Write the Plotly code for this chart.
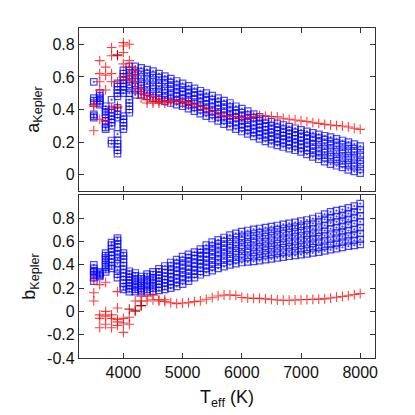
import plotly.graph_objects as go
from plotly.subplots import make_subplots

# model grid: one column of points per Teff (K)
TEFF_GRID = [3500, 3600, 3700, 3800, 3900, 4000, 4100, 4200, 4300, 4400,
             4500, 4600, 4700, 4800, 4900, 5000, 5100, 5200, 5300, 5400,
             5500, 5600, 5700, 5800, 5900, 6000, 6100, 6200, 6300, 6400,
             6500, 6600, 6700, 6800, 6900, 7000, 7100, 7200, 7300, 7400,
             7500, 7600, 7700, 7800, 7900, 8000]

A_GRID = [
    [0.57, 0.47, 0.455, 0.44, 0.37, 0.36, 0.35],
    [0.50, 0.485, 0.47, 0.455, 0.44, 0.43],
    [0.42, 0.40, 0.385, 0.37, 0.35, 0.33, 0.31, 0.29, 0.28],
    [0.46, 0.40, 0.38, 0.36, 0.34, 0.32, 0.30, 0.21, 0.19],
    [0.56, 0.54, 0.52, 0.50, 0.48, 0.41, 0.37, 0.35, 0.25, 0.21, 0.19, 0.17, 0.15, 0.13],
    [0.64, 0.62, 0.60, 0.58, 0.56, 0.54, 0.52, 0.50, 0.36, 0.34, 0.32, 0.30, 0.28],
    [0.665, 0.64, 0.61, 0.585, 0.555, 0.53, 0.50, 0.46, 0.44, 0.42, 0.40, 0.38],
    [0.665, 0.635, 0.61, 0.58, 0.55, 0.52, 0.49],
    [0.655, 0.63, 0.60, 0.57, 0.545, 0.515, 0.49],
    [0.645, 0.62, 0.59, 0.56, 0.535, 0.505, 0.48],
    [0.635, 0.61, 0.58, 0.55, 0.525, 0.495, 0.47],
    [0.62, 0.595, 0.565, 0.54, 0.51, 0.485, 0.46],
    [0.605, 0.58, 0.555, 0.525, 0.50, 0.475, 0.45],
    [0.59, 0.565, 0.54, 0.515, 0.49, 0.465, 0.44],
    [0.575, 0.55, 0.525, 0.50, 0.48, 0.455, 0.43],
    [0.56, 0.535, 0.51, 0.49, 0.465, 0.44, 0.42],
    [0.545, 0.52, 0.50, 0.475, 0.45, 0.43, 0.405],
    [0.53, 0.505, 0.485, 0.46, 0.435, 0.415, 0.39],
    [0.515, 0.49, 0.47, 0.445, 0.42, 0.40, 0.375],
    [0.50, 0.475, 0.455, 0.43, 0.405, 0.385, 0.36],
    [0.485, 0.46, 0.44, 0.415, 0.39, 0.37, 0.345],
    [0.47, 0.445, 0.425, 0.40, 0.375, 0.355, 0.33],
    [0.455, 0.43, 0.405, 0.38, 0.36, 0.335, 0.31],
    [0.44, 0.415, 0.39, 0.365, 0.345, 0.32, 0.295],
    [0.42, 0.395, 0.375, 0.35, 0.325, 0.305, 0.28],
    [0.405, 0.38, 0.36, 0.335, 0.31, 0.29, 0.265],
    [0.39, 0.365, 0.345, 0.32, 0.295, 0.275, 0.25],
    [0.372, 0.35, 0.325, 0.305, 0.28, 0.26, 0.235],
    [0.355, 0.33, 0.31, 0.29, 0.265, 0.245, 0.22],
    [0.34, 0.315, 0.295, 0.275, 0.25, 0.23, 0.205],
    [0.325, 0.30, 0.28, 0.26, 0.235, 0.215, 0.19],
    [0.315, 0.29, 0.27, 0.25, 0.225, 0.205, 0.18],
    [0.305, 0.28, 0.26, 0.24, 0.215, 0.195, 0.17],
    [0.295, 0.27, 0.25, 0.23, 0.205, 0.185, 0.16],
    [0.285, 0.26, 0.24, 0.22, 0.195, 0.175, 0.15],
    [0.275, 0.25, 0.23, 0.21, 0.185, 0.165, 0.14],
    [0.266, 0.24, 0.22, 0.195, 0.17, 0.15, 0.125],
    [0.257, 0.23, 0.21, 0.185, 0.16, 0.135, 0.11],
    [0.248, 0.225, 0.20, 0.17, 0.145, 0.12, 0.095],
    [0.239, 0.215, 0.19, 0.16, 0.135, 0.105, 0.08],
    [0.23, 0.205, 0.18, 0.15, 0.12, 0.095, 0.065],
    [0.22, 0.195, 0.17, 0.14, 0.11, 0.085, 0.055],
    [0.21, 0.185, 0.155, 0.13, 0.10, 0.07, 0.045],
    [0.20, 0.175, 0.145, 0.115, 0.09, 0.06, 0.03],
    [0.188, 0.16, 0.135, 0.105, 0.075, 0.05, 0.02],
    [0.175, 0.15, 0.12, 0.09, 0.065, 0.035, 0.01],
]

B_GRID = [
    [0.40, 0.37, 0.35, 0.34, 0.33, 0.31, 0.29, 0.26],
    [0.34, 0.33, 0.32, 0.31, 0.30],
    [0.50, 0.48, 0.46, 0.44, 0.42, 0.40, 0.38, 0.36, 0.34],
    [0.59, 0.57, 0.54, 0.51, 0.48, 0.45, 0.42, 0.39, 0.37],
    [0.63, 0.61, 0.58, 0.55, 0.52, 0.49, 0.45, 0.41, 0.36, 0.32, 0.29],
    [0.50, 0.48, 0.45, 0.42, 0.39, 0.36, 0.33, 0.30, 0.27, 0.24, 0.21, 0.19],
    [0.345, 0.32, 0.295, 0.27, 0.245, 0.22, 0.195, 0.17],
    [0.33, 0.305, 0.28, 0.26, 0.235, 0.21, 0.19, 0.17],
    [0.30, 0.28, 0.26, 0.24, 0.22, 0.20, 0.185, 0.17],
    [0.32, 0.30, 0.275, 0.255, 0.235, 0.21, 0.19, 0.17],
    [0.34, 0.315, 0.29, 0.27, 0.245, 0.22, 0.20, 0.175],
    [0.365, 0.34, 0.31, 0.285, 0.26, 0.235, 0.205, 0.18],
    [0.39, 0.36, 0.33, 0.30, 0.275, 0.245, 0.215, 0.19],
    [0.42, 0.39, 0.355, 0.325, 0.295, 0.26, 0.23, 0.20],
    [0.445, 0.41, 0.38, 0.345, 0.315, 0.28, 0.25, 0.215],
    [0.47, 0.435, 0.40, 0.37, 0.335, 0.30, 0.27, 0.235],
    [0.49, 0.46, 0.425, 0.39, 0.36, 0.325, 0.29, 0.26],
    [0.51, 0.48, 0.45, 0.415, 0.385, 0.35, 0.32, 0.29],
    [0.535, 0.505, 0.47, 0.44, 0.41, 0.375, 0.345, 0.315],
    [0.57, 0.535, 0.50, 0.47, 0.435, 0.40, 0.37, 0.335],
    [0.595, 0.56, 0.525, 0.49, 0.455, 0.42, 0.385, 0.35],
    [0.615, 0.58, 0.545, 0.51, 0.475, 0.44, 0.405, 0.37],
    [0.635, 0.60, 0.565, 0.53, 0.495, 0.455, 0.42, 0.385],
    [0.655, 0.62, 0.58, 0.545, 0.51, 0.47, 0.435, 0.40],
    [0.67, 0.635, 0.595, 0.56, 0.52, 0.485, 0.445, 0.41],
    [0.685, 0.645, 0.61, 0.57, 0.535, 0.495, 0.46, 0.42],
    [0.695, 0.655, 0.62, 0.58, 0.54, 0.505, 0.465, 0.425],
    [0.705, 0.665, 0.625, 0.59, 0.55, 0.51, 0.47, 0.43],
    [0.712, 0.675, 0.635, 0.595, 0.555, 0.515, 0.475, 0.437],
    [0.72, 0.68, 0.64, 0.60, 0.56, 0.525, 0.485, 0.445],
    [0.728, 0.69, 0.65, 0.61, 0.57, 0.53, 0.49, 0.452],
    [0.738, 0.70, 0.66, 0.62, 0.58, 0.54, 0.50, 0.46],
    [0.748, 0.708, 0.668, 0.627, 0.587, 0.547, 0.507, 0.467],
    [0.757, 0.716, 0.676, 0.635, 0.595, 0.555, 0.514, 0.474],
    [0.765, 0.724, 0.683, 0.642, 0.602, 0.561, 0.52, 0.481],
    [0.775, 0.733, 0.692, 0.65, 0.61, 0.57, 0.53, 0.488],
    [0.785, 0.743, 0.70, 0.658, 0.617, 0.575, 0.535, 0.495],
    [0.798, 0.755, 0.71, 0.67, 0.625, 0.585, 0.545, 0.503],
    [0.815, 0.77, 0.725, 0.68, 0.64, 0.595, 0.55, 0.51],
    [0.835, 0.79, 0.74, 0.695, 0.65, 0.605, 0.56, 0.52],
    [0.855, 0.805, 0.76, 0.71, 0.665, 0.62, 0.575, 0.53],
    [0.865, 0.815, 0.77, 0.72, 0.675, 0.63, 0.585, 0.54],
    [0.875, 0.825, 0.78, 0.73, 0.685, 0.64, 0.595, 0.55],
    [0.89, 0.84, 0.79, 0.745, 0.695, 0.65, 0.605, 0.56],
    [0.905, 0.855, 0.805, 0.755, 0.705, 0.66, 0.61, 0.568],
    [0.925, 0.875, 0.82, 0.77, 0.72, 0.67, 0.62, 0.575],
]

# observed / fitted coefficients (red crosses)
RED_T_A = [3500, 3500, 3500, 3600, 3600, 3600, 3600, 3600, 3700, 3700, 3700, 3700,
           3800, 3800, 3800, 3800, 3800, 3900, 3900, 3900, 4000, 4000, 4000, 4000,
           4000, 4100, 4100, 4100, 4100, 4100, 4200, 4200, 4200, 4200, 4300, 4300,
           4300, 4400, 4400, 4400, 4500, 4500, 4500, 4600, 4600, 4600, 4700, 4700,
           4800, 4800, 4900, 5000, 5000, 5100, 5100, 5200, 5300, 5400, 5500, 5600,
           5700, 5800, 5900, 6000, 6100, 6200, 6300, 6400, 6500, 6600, 6700, 6800,
           6900, 7000, 7100, 7200, 7300, 7400, 7500, 7600, 7700, 7800, 7900, 8000]
RED_A = [0.43, 0.42, 0.27, 0.70, 0.62, 0.57, 0.52, 0.34, 0.66, 0.61, 0.52, 0.33,
         0.78, 0.73, 0.62, 0.57, 0.41, 0.73, 0.57, 0.42, 0.81, 0.79, 0.75, 0.68,
         0.60, 0.80, 0.70, 0.66, 0.61, 0.58, 0.64, 0.61, 0.57, 0.52, 0.53, 0.50,
         0.47, 0.49, 0.46, 0.44, 0.48, 0.45, 0.44, 0.46, 0.45, 0.44, 0.45, 0.44,
         0.455, 0.445, 0.455, 0.449, 0.44, 0.445, 0.435, 0.428, 0.418, 0.404, 0.387, 0.371,
         0.363, 0.357, 0.357, 0.35, 0.35, 0.357, 0.363, 0.36, 0.357, 0.355, 0.346, 0.34,
         0.336, 0.33, 0.326, 0.319, 0.315, 0.309, 0.305, 0.301, 0.299, 0.293, 0.285, 0.278]

RED_T_B = [3500, 3500, 3500, 3600, 3600, 3600, 3600, 3700, 3700, 3700, 3700, 3800,
           3800, 3800, 3900, 3900, 3900, 3900, 3900, 4000, 4000, 4000, 4100, 4100,
           4200, 4200, 4300, 4300, 4300, 4400, 4400, 4500, 4500, 4600, 4600, 4700,
           4700, 4800, 4900, 5000, 5100, 5200, 5300, 5400, 5500, 5600, 5700, 5800,
           5900, 6000, 6100, 6200, 6300, 6400, 6500, 6600, 6700, 6800, 6900, 7000,
           7100, 7200, 7300, 7400, 7500, 7600, 7700, 7800, 7900, 8000]
RED_B = [0.27, 0.16, 0.09, 0.23, -0.03, -0.06, -0.14, 0.25, 0.00, -0.04, -0.11, -0.03,
         -0.06, -0.14, 0.17, 0.03, -0.07, -0.09, -0.12, -0.06, -0.10, -0.18, -0.05, -0.11,
         0.09, 0.00, 0.13, 0.09, 0.05, 0.13, 0.09, 0.14, 0.10, 0.10, 0.09, 0.10,
         0.085, 0.075, 0.067, 0.072, 0.075, 0.084, 0.09, 0.104, 0.118, 0.133, 0.141, 0.141,
         0.138, 0.12, 0.115, 0.112, 0.112, 0.108, 0.104, 0.098, 0.096, 0.096, 0.098, 0.10,
         0.102, 0.104, 0.106, 0.108, 0.115, 0.122, 0.128, 0.135, 0.145, 0.153]

# a few darker crosses
DARK_T_A = [3900, 3900]
DARK_A = [0.735, 0.41]
DARK_T_B = [4100, 4200, 4300]
DARK_B = [0.02, 0.01, 0.05]

AX = "#333333"
FONT = "Liberation Sans, Arial, sans-serif"


def flat(teff, grid):
    xs, ys = [], []
    for t, col in zip(teff, grid):
        for v in col:
            xs.append(t)
            ys.append(v)
    return xs, ys


fig = make_subplots(rows=2, cols=1, shared_xaxes=True, vertical_spacing=0.012)

panels = [(A_GRID, RED_T_A, RED_A, DARK_T_A, DARK_A),
          (B_GRID, RED_T_B, RED_B, DARK_T_B, DARK_B)]
for row, (grid, rt, rv, dt, dv) in enumerate(panels, start=1):
    bx, by = flat(TEFF_GRID, grid)
    fig.add_trace(go.Scatter(
        x=bx, y=by, mode="markers",
        marker=dict(symbol="square-open-dot", size=6.5, color="#0000ff",
                    opacity=0.7, line=dict(width=1.2, color="#0000ff"))),
        row=row, col=1)
    fig.add_trace(go.Scatter(
        x=rt, y=rv, mode="markers",
        marker=dict(symbol="cross-thin-open", size=7, color="#ff0000",
                    opacity=0.75, line=dict(width=1.1, color="#ff0000"))),
        row=row, col=1)
    fig.add_trace(go.Scatter(
        x=dt, y=dv, mode="markers",
        marker=dict(symbol="cross-thin-open", size=7, color="#a00000",
                    opacity=0.85, line=dict(width=1.1, color="#a00000"))),
        row=row, col=1)

axis_style = dict(showline=True, linecolor=AX, linewidth=1.2, mirror="ticks",
                  ticks="inside", ticklen=5, tickcolor=AX, showgrid=False,
                  zeroline=False, tickfont=dict(size=16, color="#111", family=FONT))

fig.update_xaxes(range=[3250, 8250], tickvals=[4000, 5000, 6000, 7000, 8000],
                 **axis_style)
fig.update_xaxes(title=dict(text="T<sub>eff</sub> (K)", font=dict(size=18, family=FONT,
                 color="#111"), standoff=10), row=2, col=1)

fig.update_yaxes(range=[-0.1, 0.9], tickvals=[0, 0.2, 0.4, 0.6, 0.8],
                 ticktext=["0", "0.2", "0.4", "0.6", "0.8"],
                 title=dict(text="a<sub>Kepler</sub>", font=dict(size=18, family=FONT,
                            color="#111"), standoff=8),
                 row=1, col=1, **axis_style)
fig.update_yaxes(range=[-0.4, 1.0], tickvals=[-0.4, -0.2, 0, 0.2, 0.4, 0.6, 0.8],
                 ticktext=["-0.4", "-0.2", "0", "0.2", "0.4", "0.6", "0.8"],
                 title=dict(text="b<sub>Kepler</sub>", font=dict(size=18, family=FONT,
                            color="#111"), standoff=6),
                 row=2, col=1, **axis_style)

# page body adds ~8px margin, so the figure is a little smaller than the window
fig.update_layout(width=407, height=407, showlegend=False,
                  paper_bgcolor="white", plot_bgcolor="white",
                  margin=dict(l=71, r=40, t=20, b=57),
                  font=dict(family=FONT))

fig.write_html("out.html")
